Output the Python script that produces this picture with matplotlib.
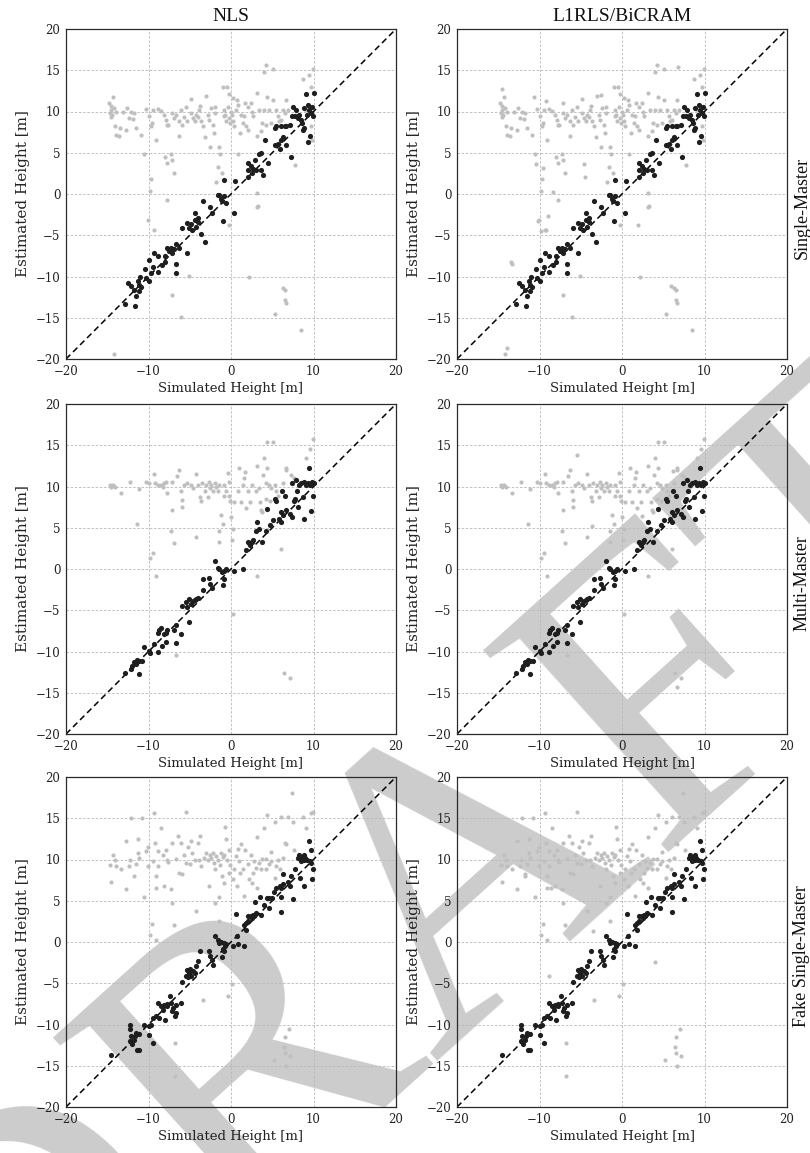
import numpy as np
import matplotlib
matplotlib.use("Agg")
import matplotlib.pyplot as plt

# ---------------------------------------------------------------------------
# Height estimates (simulated height [m], estimated height [m])
# dark  = estimates that follow the simulated height
# light = remaining detections
# ---------------------------------------------------------------------------

# Single-Master
sm_dark = [
    (-12.5, -10.8), (-12.1, -11.2), (-11.7, -11.6), (-11.5, -12.4), (-12.9, -13.3),
    (-11.6, -13.6), (-11.3, -10.6), (-11.1, -11.0), (-11.2, -11.8), (-10.9, -11.3),
    (-11.0, -10.0), (-10.3, -10.2), (-10.0, -10.5), (-10.4, -9.1), (-10.0, -8.0),
    (-9.5, -8.8), (-9.7, -9.6), (-9.3, -7.1), (-8.8, -7.5), (-8.9, -9.5),
    (-8.4, -8.6), (-8.0, -8.3), (-8.0, -7.5), (-7.7, -6.6), (-7.5, -6.9),
    (-7.3, -6.5), (-7.1, -7.2), (-6.9, -6.7), (-6.7, -6.0), (-6.7, -8.5),
    (-6.7, -9.6), (-6.3, -6.6), (-5.9, -4.1), (-5.3, -7.2), (-5.3, -3.5),
    (-5.1, -4.1), (-4.9, -3.6), (-4.7, -4.4), (-4.4, -3.2), (-4.4, -2.3),
    (-4.2, -4.0), (-4.0, -3.4), (-4.0, -2.9), (-3.6, -4.8), (-3.4, -0.9),
    (-3.2, -5.8), (-2.5, -1.6), (-2.3, -2.3), (-1.6, -0.1), (-1.4, -0.1),
    (-1.2, -0.6), (-1.1, -0.9), (-1.0, -3.3), (-0.9, 1.7), (-0.8, -0.3),
    (-0.6, -1.1), (0.4, -2.3), (0.5, 1.6), (2.0, 3.8), (2.0, 2.9),
    (2.1, 2.1), (2.4, 3.4), (2.5, 2.5), (2.7, 3.0), (2.9, 4.1),
    (3.0, 2.9), (3.4, 4.8), (3.6, 5.0), (3.6, 2.9), (3.9, 2.3),
    (4.5, 3.8), (4.1, 6.5), (5.3, 8.0), (5.5, 8.2), (5.3, 5.9),
    (5.7, 6.1), (5.9, 5.5), (6.1, 6.5), (6.3, 6.9), (6.1, 8.2),
    (6.5, 8.2), (6.7, 8.2), (6.7, 5.9), (7.1, 8.4), (7.3, 4.5),
    (7.5, 10.6), (7.4, 9.5), (7.9, 10.2), (7.7, 9.4), (8.1, 9.2),
    (8.3, 9.6), (8.5, 9.0), (8.6, 8.6), (8.7, 7.8), (8.9, 10.4),
    (9.1, 12.1), (9.2, 9.6), (9.3, 10.8), (9.5, 10.2), (9.7, 9.8),
    (9.6, 7.0), (9.9, 9.4), (10.0, 12.3), (9.8, 10.6), (9.3, 6.3),
    (8.8, 8.0),
]
sm_light = [
    (-14.8, 11.0), (-14.5, 10.7), (-14.3, 11.8), (-14.5, 10.2), (-14.7, 9.8),
    (-14.4, 9.6), (-14.2, 10.4), (-14.0, 9.9), (-14.6, 9.3), (-14.1, 8.2),
    (-13.9, 7.2), (-13.6, 7.0), (-13.5, 8.0), (-13.1, 10.0), (-12.6, 10.4),
    (-12.4, 9.2), (-12.7, 7.8), (-12.1, 10.0), (-11.9, 9.1), (-11.7, 9.8),
    (-11.5, 8.0), (-10.9, 7.1), (-10.6, 4.8), (-10.3, 10.3), (-10.0, 9.4),
    (-9.7, 8.2), (-9.6, 8.6), (-9.5, 10.2), (-8.9, 10.3), (-9.1, 6.5),
    (-8.5, 10.1), (-8.1, 9.6), (-7.9, 9.0), (-7.8, 8.4), (-8.0, 4.5),
    (-7.7, 3.8), (-7.3, 4.8), (-7.2, 4.1), (-7.6, 8.4), (-7.1, 9.8),
    (-6.9, 9.2), (-6.7, 9.6), (-6.9, 2.6), (-6.3, 8.9), (-6.3, 7.0),
    (-6.1, 10.2), (-5.9, 8.4), (-5.7, 9.3), (-5.5, 10.5), (-5.3, 8.8),
    (-4.9, 11.5), (-4.8, 9.8), (-4.6, 9.2), (-4.4, 8.9), (-4.2, 9.6),
    (-4.0, 9.3), (-3.9, 10.2), (-3.7, 10.7), (-3.6, 8.9), (-3.4, 8.2),
    (-3.2, 6.9), (-3.0, 11.9), (-2.8, 9.6), (-2.7, 9.0), (-2.6, 5.7),
    (-2.4, 10.4), (-2.2, 8.4), (-2.1, 7.4), (-2.0, 9.8), (-1.9, 10.6),
    (-1.8, 1.5), (-1.6, 3.3), (-1.4, 5.7), (-1.3, 4.8), (-1.1, 2.5),
    (-1.0, 13.0), (-0.9, 9.4), (-0.8, 10.2), (-0.7, 9.6), (-0.6, 8.9),
    (-0.5, 13.0), (-0.4, 10.6), (-0.3, 12.1), (-0.2, 9.2), (-0.1, 8.6),
    (0.0, 10.0), (0.1, 9.6), (0.2, 11.6), (0.3, 8.8), (0.4, 8.2),
    (0.6, 10.2), (0.7, 11.4), (0.8, 4.8), (0.9, 10.8), (1.1, 7.4),
    (1.2, 9.6), (1.4, 8.6), (1.6, 9.4), (1.7, 11.0), (1.8, 8.2),
    (2.0, 10.6), (2.1, 7.8), (2.2, -10.0), (2.4, 11.0), (2.6, 9.9),
    (2.7, 9.5), (3.2, 7.0), (3.2, 12.3), (3.2, 0.1), (3.1, -1.6),
    (3.3, -1.5), (3.4, 10.2), (3.6, 7.6), (3.8, 8.6), (4.0, 10.2),
    (4.2, 8.4), (4.0, 14.8), (4.2, 15.6), (4.4, 11.7), (4.6, 10.2),
    (4.8, 8.6), (5.1, 11.4), (5.1, 15.2), (5.3, -14.5), (5.5, 10.2),
    (5.7, 9.4), (5.8, 8.8), (6.1, 9.0), (6.3, 10.2), (6.3, -11.4),
    (6.5, -11.6), (6.6, -12.8), (6.7, -13.2), (6.7, 11.4), (6.5, 9.8),
    (6.9, 10.2), (7.7, 3.5), (8.5, -16.5), (8.7, 14.0), (9.1, 10.2),
    (9.5, 14.4), (9.7, 13.0), (9.9, 15.2), (9.8, 6.5), (9.7, 8.2),
    (-9.7, 1.8), (-9.8, 0.4), (-10.1, -3.2), (-9.3, -4.4), (-7.8, -0.7),
    (-7.1, -12.2), (-5.1, -9.9), (-6.1, -14.9), (-0.3, -3.8), (-14.2, -19.4),
]
sm_light_l1 = [
    (-13.9, -18.7), (-13.5, -8.3), (-13.3, -8.5), (-14.6, 12.7), (-10.7, 11.7),
    (-10.4, 3.6), (-9.6, 3.1), (-10.2, -3.3), (-9.8, -4.5), (-9.2, -4.4),
    (-9.0, -2.7), (-8.4, 0.3), (-4.5, 2.1), (-4.6, 3.6), (1.9, -3.8),
    (-9.2, 11.3), (-7.2, 11.0), (5.9, -11.2), (6.8, 15.4), (-2.6, 12.0),
]

# Multi-Master
mm_dark = [
    (-12.8, -12.6), (-12.1, -12.1), (-12.0, -11.7), (-11.7, -11.3), (-11.5, -11.5),
    (-11.4, -11.0), (-11.2, -12.7), (-11.1, -11.2), (-10.8, -11.2), (-10.6, -9.5),
    (-9.9, -9.9), (-9.8, -10.2), (-9.3, -9.1), (-8.9, -10.1), (-8.9, -7.7),
    (-8.7, -7.4), (-8.5, -7.2), (-8.4, -9.3), (-8.1, -7.9), (-7.9, -7.7),
    (-7.9, -8.9), (-7.7, -7.4), (-6.9, -7.4), (-6.7, -6.8), (-6.7, -9.0),
    (-6.1, -7.9), (-5.9, -4.5), (-5.4, -4.0), (-5.3, -4.6), (-5.1, -6.4),
    (-5.1, -3.6), (-4.8, -4.2), (-4.6, -3.9), (-4.4, -3.8), (-4.2, -3.6),
    (-4.0, -3.5), (-3.4, -1.2), (-3.4, -2.5), (-2.7, -1.1), (-2.5, -1.8),
    (-2.3, -2.3), (-1.9, 1.0), (-1.6, 0.1), (-1.4, 0.0), (-1.1, -0.4),
    (-1.0, -1.9), (-0.9, -1.2), (-0.8, -0.2), (-0.6, 0.0), (0.4, -0.3),
    (1.5, 0.0), (1.8, 2.3), (2.0, 3.3), (2.2, 3.1), (2.3, 2.9),
    (2.5, 3.3), (2.7, 3.5), (3.0, 4.6), (3.2, 5.7), (3.4, 4.9),
    (3.7, 3.3), (4.2, 4.6), (4.4, 7.3), (4.7, 5.3), (5.1, 5.9),
    (5.3, 8.5), (5.5, 8.3), (5.8, 6.1), (6.0, 6.9), (6.1, 5.7),
    (6.2, 9.4), (6.3, 6.5), (6.5, 8.8), (6.7, 7.1), (7.1, 6.7),
    (7.4, 10.4), (7.4, 6.3), (7.6, 8.2), (7.8, 8.5), (7.9, 10.8),
    (8.0, 9.4), (8.1, 7.5), (8.3, 10.2), (8.5, 10.4), (8.7, 8.7),
    (8.8, 6.1), (8.9, 10.6), (9.1, 10.2), (9.3, 10.4), (9.5, 12.3),
    (9.6, 10.2), (9.7, 7.0), (9.8, 10.6), (9.9, 8.9), (10.0, 10.4),
]
mm_light = [
    (-14.7, 10.2), (-14.5, 10.0), (-14.3, 10.2), (-14.1, 9.9), (-13.3, 9.2),
    (-12.2, 10.6), (-11.4, 5.4), (-11.2, 9.7), (-10.3, 10.5), (-10.0, 10.4),
    (-9.8, 1.3), (-9.5, 1.9), (-9.1, -0.8), (-9.3, 11.5), (-9.2, 10.4),
    (-8.8, 10.2), (-8.5, 10.2), (-8.3, 10.0), (-8.1, 10.4), (-7.9, 10.6),
    (-7.7, 9.2), (-7.3, 4.6), (-7.2, 10.6), (-7.1, 7.2), (-6.9, 3.1),
    (-6.7, -10.4), (-6.5, 11.3), (-6.3, 12.0), (-6.1, 9.4), (-5.9, 7.5),
    (-5.9, 8.4), (-5.7, 10.2), (-5.3, 10.4), (-4.8, 10.2), (-4.6, 9.8),
    (-4.2, 11.5), (-4.2, 3.9), (-4.0, 10.2), (-3.8, 8.7), (-3.6, 8.2),
    (-3.5, 10.4), (-3.2, 9.4), (-3.0, 10.2), (-2.8, 8.7), (-2.7, 10.6),
    (-2.6, 9.8), (-2.4, 10.2), (-2.2, 9.4), (-2.0, 10.4), (-1.8, 10.0),
    (-1.6, 9.4), (-1.5, 4.6), (-1.4, 3.3), (-1.4, 10.2), (-1.2, 6.5),
    (-1.0, 5.5), (-0.9, 8.9), (-0.8, 10.2), (-0.6, 9.4), (-0.4, 11.6),
    (-0.3, 10.6), (-0.2, 8.9), (-0.1, 8.3), (0.0, 6.3), (0.1, 3.5),
    (0.2, -5.4), (0.2, 4.9), (0.4, 8.1), (0.9, 9.4), (1.0, 12.2),
    (1.2, 8.1), (1.4, 10.2), (1.6, 11.0), (1.7, 11.7), (1.8, 7.4),
    (2.0, 9.4), (2.3, 8.1), (2.6, 10.2), (3.0, 9.4), (3.2, 12.5),
    (3.2, -0.8), (3.4, 9.8), (3.5, 8.1), (3.6, 7.1), (3.8, 6.9),
    (3.9, 11.4), (4.0, 13.4), (4.2, 10.4), (4.2, 8.5), (4.4, 15.4),
    (4.4, 12.2), (4.6, 10.2), (4.7, 8.3), (4.8, 9.8), (5.1, 15.4),
    (5.3, 10.2), (5.4, 9.4), (5.7, 8.9), (6.0, 2.4), (6.3, 10.4),
    (6.4, -12.6), (6.7, 12.0), (6.7, 12.3), (7.2, -13.2), (7.3, 11.4),
    (7.6, 11.0), (9.1, 13.4), (9.6, 14.6), (9.9, 15.8),
]
mm_light_l1 = [
    (-5.4, 13.8), (6.7, -14.3), (-3.6, 5.2), (2.4, 6.4), (6.2, 11.9),
]

# Fake Single-Master
fsm_dark = [
    (-14.6, -13.7), (-12.3, -10.1), (-12.2, -10.6), (-12.1, -11.4), (-12.2, -12.0),
    (-12.0, -12.4), (-11.7, -11.9), (-11.6, -11.4), (-11.5, -11.0), (-11.4, -13.1),
    (-11.2, -11.2), (-11.1, -13.1), (-10.6, -10.0), (-10.0, -11.3), (-9.9, -10.2),
    (-9.7, -10.0), (-9.5, -12.2), (-9.5, -9.2), (-9.1, -9.0), (-8.9, -7.4),
    (-8.7, -9.2), (-8.5, -7.7), (-8.3, -8.2), (-8.1, -7.6), (-8.0, -9.5),
    (-7.8, -7.5), (-7.7, -7.8), (-7.4, -6.5), (-7.3, -7.4), (-7.1, -8.4),
    (-7.0, -8.0), (-6.8, -9.0), (-6.7, -8.6), (-6.7, -7.6), (-6.1, -7.4),
    (-5.9, -4.9), (-5.5, -4.1), (-5.3, -3.4), (-5.2, -4.3), (-5.1, -3.8),
    (-5.0, -3.3), (-4.8, -4.1), (-4.6, -3.5), (-4.4, -3.7), (-4.3, -2.9),
    (-4.0, -2.3), (-3.8, -1.1), (-2.7, -1.1), (-2.5, -1.7), (-2.3, -2.2),
    (-2.2, -2.8), (-1.9, 0.7), (-1.6, 0.2), (-1.4, -0.1), (-1.2, 0.0),
    (-1.0, -0.8), (-0.9, -0.1), (-0.8, -1.1), (-0.7, -0.5), (-1.1, -1.8),
    (-0.6, -0.2), (0.2, -0.5), (0.6, 3.4), (0.7, 0.7), (0.9, -0.3),
    (1.6, -0.5), (1.6, 2.1), (1.8, 2.3), (2.0, 2.5), (1.8, 1.4),
    (2.1, 3.1), (2.4, 3.2), (2.6, 2.9), (2.7, 3.3), (2.8, 3.1),
    (3.0, 3.5), (2.9, 4.9), (3.6, 3.3), (3.5, 5.5), (4.0, 4.5),
    (4.4, 5.3), (4.6, 5.3), (4.6, 4.1), (5.0, 5.3), (5.2, 6.1),
    (5.4, 6.6), (5.9, 6.8), (6.0, 6.5), (6.1, 5.5), (6.0, 3.6),
    (6.3, 7.0), (6.3, 8.3), (6.9, 7.3), (7.2, 6.8), (7.3, 8.0),
    (7.5, 5.2), (7.8, 8.8), (8.1, 10.2), (8.2, 10.6), (8.5, 9.8),
    (8.4, 7.7), (8.6, 10.2), (8.8, 9.9), (8.8, 6.8), (8.9, 10.6),
    (9.0, 10.2), (9.2, 9.9), (9.4, 12.2), (9.6, 9.8), (9.7, 11.2),
    (9.7, 9.6), (9.8, 7.6), (9.9, 8.8),
]
fsm_light = [
    (-14.7, 9.3), (-14.6, 7.3), (-14.3, 10.6), (-14.1, 9.9), (-14.0, 9.2),
    (-13.3, 8.9), (-12.7, 6.4), (-12.7, 12.3), (-12.4, 9.2), (-12.2, 10.0),
    (-12.1, 15.0), (-11.7, 8.0), (-11.5, 9.5), (-11.3, 12.5), (-11.3, 10.8),
    (-11.1, 10.2), (-10.8, 15.0), (-10.5, 5.4), (-10.3, 11.0), (-10.1, 11.5),
    (-10.1, 9.2), (-9.8, 0.8), (-9.6, 2.2), (-9.5, 9.8), (-9.3, 15.6),
    (-9.2, 12.0), (-9.1, 8.0), (-9.1, 6.6), (-9.1, 0.3), (-8.9, 11.0),
    (-8.8, 9.2), (-8.5, 13.8), (-8.3, 10.5), (-8.1, 6.8), (-7.9, 11.2),
    (-7.7, 9.9), (-7.6, 9.7), (-7.3, 6.4), (-7.2, 4.7), (-7.1, 12.0),
    (-6.9, 2.1), (-6.8, -12.3), (-6.8, -16.2), (-6.7, 10.1), (-6.4, 12.8),
    (-6.3, 8.4), (-6.1, 12.0), (-5.9, 8.2), (-5.7, 10.6), (-5.5, 15.7),
    (-5.5, 9.6), (-5.2, 11.5), (-5.0, 9.4), (-4.8, 12.3), (-4.7, 10.8),
    (-4.4, 10.0), (-4.2, 3.7), (-4.0, 12.0), (-3.9, 10.0), (-3.8, 12.9),
    (-3.6, 9.2), (-3.4, -7.0), (-3.3, 10.2), (-3.0, 10.8), (-2.8, 10.0),
    (-2.7, 6.8), (-2.6, 10.6), (-2.4, 10.2), (-2.2, 10.8), (-2.1, 9.6),
    (-2.0, 8.9), (-1.9, 4.7), (-1.8, 10.4), (-1.6, 9.9), (-1.5, 2.5),
    (-1.4, 5.4), (-1.3, 9.3), (-1.2, 10.8), (-1.1, 8.0), (-1.0, 10.3),
    (-0.9, 7.2), (-0.8, 10.5), (-0.7, 13.9), (-0.6, 12.5), (-0.5, 10.0),
    (-0.4, -6.6), (-0.3, 8.4), (-0.2, 11.2), (-0.1, 9.3), (0.1, -5.1),
    (0.2, 7.6), (0.4, 8.8), (0.6, 10.4), (0.7, 6.8), (0.8, 11.3),
    (1.0, 9.8), (1.1, 8.4), (1.2, 11.9), (1.4, 8.8), (1.6, 5.6),
    (1.7, 11.2), (2.0, 9.4), (2.2, 7.6), (2.4, 10.5), (2.5, 7.1),
    (2.7, 8.4), (2.8, 9.8), (3.0, 9.0), (3.2, 12.7), (3.2, 6.6),
    (3.4, 9.6), (3.6, 8.8), (3.8, 10.1), (4.0, 13.8), (4.2, 8.8),
    (4.4, 15.4), (4.6, 9.4), (4.8, 9.8), (5.2, -14.3), (5.3, 14.6),
    (5.5, 9.2), (5.7, 10.0), (5.9, 8.8), (6.1, 15.2), (6.3, 10.2),
    (6.4, -12.7), (6.5, -13.4), (6.6, 12.0), (6.7, 11.9), (6.9, 15.2),
    (7.0, -10.6), (7.1, -13.8), (7.4, 18.1), (7.5, 14.5), (7.6, 11.2),
    (8.7, 15.2), (9.1, 13.8), (9.7, 15.6), (9.9, 15.8), (6.7, -15.0),
    (4.8, 10.9), (4.2, 10.1), (5.3, 7.8), (6.6, -11.5),
]
fsm_light_l1 = [
    (-11.8, 8.3), (-8.6, 6.5), (-3.5, 1.3), (4.0, -2.4), (-8.9, -4.1),
]

row_names = ["Single-Master", "Multi-Master", "Fake Single-Master"]
col_names = ["NLS", "L1RLS/BiCRAM"]
axis_ticks = [-20, -10, 0, 10, 20]
y_ticks = [-20, -15, -10, -5, 0, 5, 10, 15, 20]

panels = [
    [(sm_dark, sm_light), (sm_dark, sm_light + sm_light_l1)],
    [(mm_dark, mm_light), (mm_dark, mm_light + mm_light_l1)],
    [(fsm_dark, fsm_light), (fsm_dark, fsm_light + fsm_light_l1)],
]

# ---------------------------------------------------------------------------
W, H = 810, 1153
fig = plt.figure(figsize=(W / 100, H / 100), dpi=100)
fig.patch.set_facecolor("white")

# faint draft stamp behind the plots
fig.text(0.546, 0.2096, "DRAFT", rotation=42, fontsize=300,
         family="Liberation Serif", color="#cccccc",
         ha="center", va="center", zorder=-5)

col_left = [66, 457]
row_top = [29, 404, 777]
size = 330

tick_font = dict(family="DejaVu Serif", size=8.5)

for r in range(3):
    for c in range(2):
        x0 = col_left[c] / W
        y0 = 1 - (row_top[r] + size) / H
        ax = fig.add_axes([x0, y0, size / W, size / H])
        ax.set_facecolor("none")
        dark, light = panels[r][c]
        dark = np.array(dark)
        light = np.array(light)

        ax.grid(True, color="#b8b8b8", linestyle=(0, (3, 2)), linewidth=0.6)
        ax.set_axisbelow(True)
        ax.plot([-20, 20], [-20, 20], color="black", linestyle=(0, (4, 2.5)),
                linewidth=1.1, zorder=2)
        ax.scatter(light[:, 0], light[:, 1], s=9, color="#bfbfbf",
                   linewidths=0, zorder=3)
        ax.scatter(dark[:, 0], dark[:, 1], s=14, color="#1e1e1e",
                   linewidths=0, zorder=4)

        ax.set_xlim(-20, 20)
        ax.set_ylim(-20, 20)
        ax.set_xticks(axis_ticks)
        ax.set_yticks(y_ticks)
        ax.tick_params(length=0, pad=4)
        for lab in ax.get_xticklabels() + ax.get_yticklabels():
            lab.set_fontfamily(tick_font["family"])
            lab.set_fontsize(tick_font["size"])
            lab.set_color("#222222")
        for sp in ax.spines.values():
            sp.set_color("#2a2a2a")
            sp.set_linewidth(0.9)

        ax.set_xlabel("Simulated Height [m]", family="DejaVu Serif",
                      fontsize=9.5, labelpad=3, color="#222222")
        ax.set_ylabel("Estimated Height [m]", family="DejaVu Serif",
                      fontsize=11, labelpad=4, color="#222222")

        if r == 0:
            ax.set_title(col_names[c], family="Liberation Serif",
                         fontsize=14, pad=6, color="#111111")

    yc = 1 - (row_top[r] + size / 2 + 14) / H
    fig.text(802 / W, yc, row_names[r], rotation=90, family="Liberation Serif",
             fontsize=13, ha="center", va="center", color="#111111")

fig.savefig("out.png", dpi=100, facecolor="white")
